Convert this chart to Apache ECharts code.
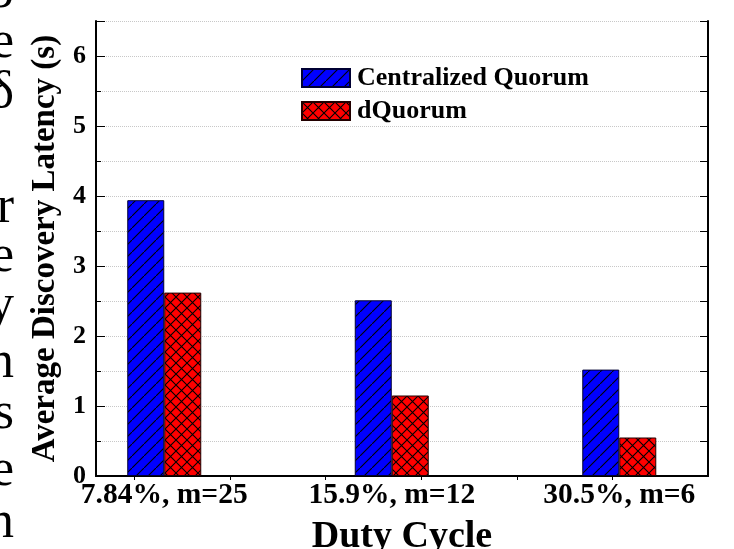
<!DOCTYPE html>
<html>
<head>
<meta charset="utf-8">
<script src="https://cdn.jsdelivr.net/npm/echarts@6/dist/echarts.min.js"></script>
<style>
html,body{margin:0;padding:0;background:#fff}
#main{width:734px;height:549px}
</style>
</head>
<body>
<div id="main"></div>
<script>
// duty cycle groups and latency (s)
var categories = ['7.84%, m=25', '15.9%, m=12', '30.5%, m=6'];
var centralized = [3.94, 2.51, 1.52];
var dquorum = [2.62, 1.15, 0.55];
var seriesNames = ['Centralized Quorum', 'dQuorum'];
// clipped body text at the left edge of the page
var sideText = ['o', 'e', 'δ', 'r', 'e', 'y', 'n', 's', 'e', 'n'];
var sideBase = [7, 57, 107, 222, 271, 320, 377, 428, 485, 537];

var serif = '"Liberation Serif", "Times New Roman", serif';

function hatch(bg, cross) {
	var s = cross ? 11 : 12;
	var c = document.createElement('canvas');
	c.width = s; c.height = s;
	var g = c.getContext('2d');
	g.fillStyle = bg;
	g.fillRect(0, 0, s, s);
	g.strokeStyle = '#000';
	g.lineWidth = 1.1;
	g.beginPath();
	g.moveTo(-1, s + 1); g.lineTo(s + 1, -1);
	if (cross) { g.moveTo(-1, -1); g.lineTo(s + 1, s + 1); }
	g.stroke();
	return c;
}

function pairs(vals) {
	return vals.map(function (v, i) { return [i + 1, v]; });
}

var myChart = echarts.init(document.getElementById('main'));
var option = {
	animation: false,
	grid: { left: 96, right: 26, top: 21, bottom: 73, containLabel: false, outerBoundsMode: 'none' },
	legend: {
		orient: 'vertical',
		left: 301, top: 65,
		padding: 0,
		itemWidth: 48, itemHeight: 18, itemGap: 7,
		icon: 'rect',
		data: seriesNames,
		textStyle: { fontFamily: serif, fontWeight: 'bold', fontSize: 26, color: '#000', padding: [0, 0, 0, 2] }
	},
	xAxis: [
		{
			type: 'value', position: 'bottom', min: 0.7, max: 3.39,
			axisLine: { lineStyle: { color: '#000', width: 2 } },
			axisTick: { show: false },
			splitLine: { show: false },
			axisLabel: {
				customValues: [1, 2, 3],
				formatter: function (v) { return categories[Math.round(v) - 1]; },
				fontFamily: serif, fontWeight: 'bold', fontSize: 29.5, color: '#000', margin: 4
			},
			name: 'Duty Cycle', nameLocation: 'middle', nameGap: 42,
			nameTextStyle: { fontFamily: serif, fontWeight: 'bold', fontSize: 38, color: '#000' }
		},
		{
			type: 'value', position: 'top', min: 0, max: 6.4,
			axisLine: { lineStyle: { color: '#000', width: 2 } },
			axisTick: { inside: true, length: 4, customValues: [0.4, 1.4, 2.4, 3.4, 4.4, 5.4], lineStyle: { color: '#000' } },
			axisLabel: { show: false },
			splitLine: { show: false }
		}
	],
	yAxis: [
		{
			type: 'value', position: 'left', min: 0, max: 6.5, interval: 0.5,
			axisLine: { show: true, lineStyle: { color: '#000', width: 2 } },
			axisTick: { show: true, inside: true, length: 5, lineStyle: { color: '#000' } },
			axisLabel: {
				formatter: function (v) { return v % 1 === 0 ? String(v) : ''; },
				fontFamily: serif, fontWeight: 'bold', fontSize: 26, color: '#000', margin: 10
			},
			splitLine: { show: true, lineStyle: { color: '#c8c8c8', type: 'dotted', width: 1 } },
			name: 'Average Discovery Latency (s)', nameLocation: 'middle', nameGap: 32,
			nameTextStyle: { fontFamily: serif, fontWeight: 'bold', fontSize: 33, color: '#000' }
		},
		{
			type: 'value', position: 'left', min: 0, max: 6.5, interval: 1,
			axisLine: { show: false },
			axisTick: { show: true, inside: true, length: 9, lineStyle: { color: '#000' } },
			axisLabel: { show: false },
			splitLine: { show: false }
		},
		{
			type: 'value', position: 'right', min: 0, max: 6.5, interval: 0.5,
			axisLine: { show: true, lineStyle: { color: '#000', width: 2 } },
			axisTick: { show: true, inside: true, length: 8, lineStyle: { color: '#000' } },
			axisLabel: { show: false },
			splitLine: { show: false }
		}
	],
	series: [
		{
			name: seriesNames[0], type: 'bar', xAxisIndex: 0, yAxisIndex: 0,
			data: pairs(centralized), barWidth: 37, barGap: '0%',
			itemStyle: { color: { image: hatch('#0000ff', false), repeat: 'repeat' }, borderColor: '#000033', borderWidth: 1 }
		},
		{
			name: seriesNames[1], type: 'bar', xAxisIndex: 0, yAxisIndex: 0,
			data: pairs(dquorum), barWidth: 37, barGap: '0%',
			itemStyle: { color: { image: hatch('#ff0000', true), repeat: 'repeat' }, borderColor: '#220000', borderWidth: 1 }
		}
	],
	graphic: sideText.map(function (t, i) {
		return {
			type: 'text', silent: true,
			style: { text: t, x: 14, y: sideBase[i] + 12, font: '52px ' + serif, fill: '#000', align: 'right', verticalAlign: 'bottom' }
		};
	})
};
myChart.setOption(option);
</script>
</body>
</html>
